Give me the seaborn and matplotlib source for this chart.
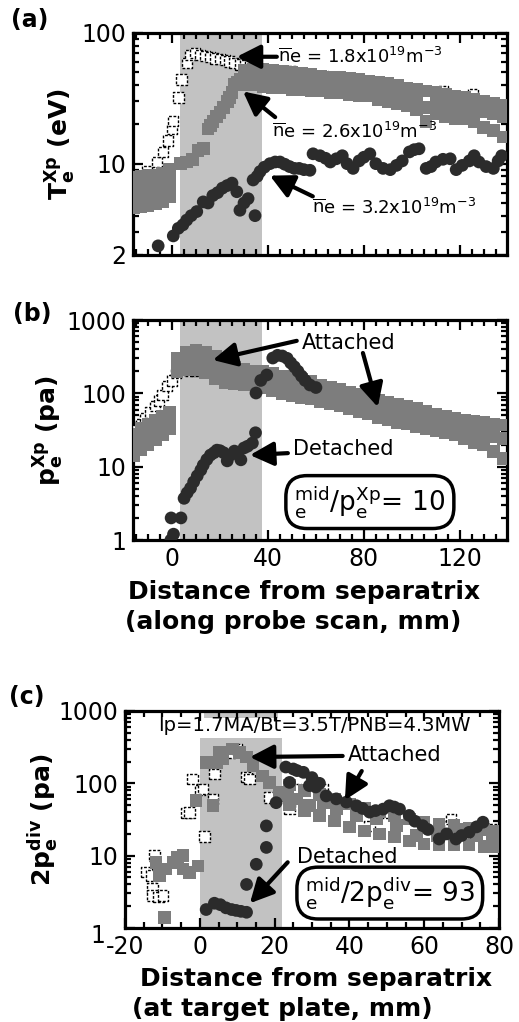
import numpy as np
import pandas as pd
import matplotlib
matplotlib.use("Agg")
import matplotlib.pyplot as plt
import seaborn as sns
from matplotlib.ticker import FixedLocator, FixedFormatter, MultipleLocator, LogLocator, NullFormatter
from matplotlib.transforms import ScaledTranslation

sns.set_style("ticks")
plt.rcParams["font.family"] = ["DejaVu Sans"]
plt.rcParams["mathtext.fontset"] = "dejavusans"
plt.rcParams["axes.unicode_minus"] = False
for k in ["text.color", "axes.edgecolor", "axes.labelcolor", "xtick.color", "ytick.color",
          "xtick.labelcolor", "ytick.labelcolor"]:
    plt.rcParams[k] = "black"

# ---------------- data: panel (a) Te at X-point ----------------
a18_x = [-16, -16, -16, -10.5, -6.4, -3.7, -1.6, 0.0, 0.5, 2.6, 4.0, 6.1, 7.5, 9.5, 11.7, 13.7, 15.8, 18.0, 20.0, 22.0,
         24.0, 26.0, 28.3, 30.5, 32.5, 34.5, 36.7, 40.0, 44.0, 50.0, 57.5, 63.0, 67.0, 70.0, 78.0, 89.0, 111.7, 113.0, 121.0, 125.5]
a18_T = [4.8, 6.1, 7.4, 8.7, 10.3, 12.3, 15.0, 18.4, 21.2, 32.0, 44.0, 59.0, 68.0, 70.0, 68.0, 67.0, 65.5, 64.0, 63.0, 62.0,
         60.6, 59.0, 57.3, 56.5, 55.5, 54.0, 53.0, 52.0, 51.0, 50.6, 48.0, 46.8, 44.0, 45.4, 44.0, 41.6, 35.0, 36.0, 32.0, 33.9]

a26_block_x = [-16, -13, -10, -7, -4, -1]
a26_block_T = [[4.6, 5.5, 6.6, 7.8], [4.7, 5.6, 6.7, 8.0], [4.8, 5.7, 6.8, 8.1],
               [4.9, 5.8, 6.9, 8.2], [5.1, 6.0, 7.1, 8.5], [5.6, 6.5, 7.6, 9.0]]
a26_rise_x = [3.5, 6.0, 8.5, 10.8, 13.0, 15.0, 16.0, 17.0, 18.5, 20.0, 21.5, 23.0, 24.0, 25.0, 26.0, 27.0, 28.3]
a26_rise_T = [10.0, 10.3, 10.8, 12.6, 13.0, 18.4, 19.5, 21.0, 23.0, 24.7, 27.0, 30.0, 32.0, 35.0, 40.4, 42.0, 44.0]
a26_band_x = [30, 34, 38, 42, 46, 50, 54, 58, 62, 66, 70, 74, 78, 82, 86, 90, 94, 98, 102, 106, 110, 114, 118, 122, 126, 130, 134, 138]
a26_band_up = [52, 53, 53, 52, 51, 50, 49, 48, 47, 46, 46, 45, 44, 43, 42, 41, 40, 38, 37, 36, 35, 34, 33, 32, 31, 30, 29, 28]
a26_band_mid = [46, 47, 46, 45, 44, 44, 43, 42, 41, 40, 40, 39, 38, 38, 37, 35, 34, 33, 31, 27, 29, 28, 27, 27, 26, 25, 24, 23]
a26_band_lo = [40, 40, 39, 38, 38, 37, 37, 36, 36, 35, 35, 34, 33, 33, 31, 30, 29, 28, 26, 21, 24, 23, 22, 22, 21, 19, 18, 16]

a32_x = [-5.8, 0.5, 2.6, 4.5, 6.1, 8.0, 10.3, 13.0, 15.0, 17.0, 19.0, 21.0, 23.0, 25.0, 27.0, 28.3, 30.0, 31.7, 33.8, 34.6,
         35.5, 36.7, 38.5, 40.8, 43.0, 45.0, 47.0, 49.0, 51.0, 53.0, 55.0, 57.5, 58.8, 61.7, 64.0, 66.0, 68.5, 71.0, 73.0, 75.5,
         78.0, 80.0, 82.5, 85.0, 88.0, 91.0, 93.6, 96.0, 99.0, 101.0, 103.0, 106.0, 108.0, 110.0, 113.0, 116.0, 118.5, 121.0,
         124.0, 126.0, 128.0, 131.0, 134.0, 136.0, 137.5]
a32_T = [2.35, 2.8, 3.2, 3.4, 3.7, 4.0, 4.3, 5.1, 5.0, 5.7, 6.0, 6.5, 6.8, 7.1, 6.1, 4.4, 5.0, 5.4, 7.5, 4.0,
         8.0, 8.7, 9.4, 10.0, 10.3, 10.3, 9.9, 9.5, 9.2, 9.2, 9.0, 8.9, 11.9, 11.5, 11.0, 10.3, 10.9, 11.5, 10.0, 9.2,
         10.5, 11.2, 11.9, 10.0, 9.2, 9.0, 9.7, 10.5, 12.3, 12.8, 13.0, 9.2, 9.5, 10.3, 10.8, 10.9, 9.0, 9.7,
         10.5, 11.5, 10.3, 9.5, 9.2, 10.5, 11.5]

# ---------------- data: panel (b) pe at X-point ----------------
b_open_x = [-16, -14.6, -13, -11.3, -9, -7, -5.5, -4, -2, 0, 1.7, 5, 7.5, 10, 12]
b_open_p = [24.5, 31.6, 38, 46, 55, 67, 80, 95, 126, 150, 189, 208, 200, 205, 208]

b_block_x = [-16, -13, -10, -7, -4, -1]
b_block_p = [[14, 20, 28], [17, 24, 33], [20, 28, 38], [23, 32, 43], [27, 37, 49], [33, 43, 56]]
b_band_x = [2, 6, 10, 14, 18, 22, 26, 30, 34, 38, 42, 46, 50, 54, 58, 62, 66, 70, 74, 78, 82, 86, 90, 94, 98,
            102, 106, 110, 114, 118, 122, 126, 130, 134, 138]
b_band_up = [300, 360, 390, 360, 320, 260, 230, 210, 200, 200, 185, 172, 165, 155, 145, 130, 120, 112, 104, 96,
             88, 80, 76, 70, 67, 62, 57, 52, 48, 46, 43, 42, 40, 38, 37]
b_band_mid = [250, 290, 300, 280, 240, 200, 175, 165, 160, 150, 140, 130, 125, 118, 115, 105, 97, 90, 82, 76,
              70, 64, 60, 56, 52, 48, 44, 40, 38, 35, 33, 31, 30, 26, 24]
b_band_lo = [200, 210, 210, 190, 160, 140, 135, 130, 130, 120, 110, 100, 92, 88, 85, 78, 72, 67, 62, 57,
             52, 47, 44, 40, 38, 35, 33, 31, 29, 27, 24, 21, 20, 16, 13]

b_att_x = [35, 37, 39.5, 42, 44, 46, 48, 49.5, 51, 52.5, 54, 55.5, 57.5, 60]
b_att_p = [101, 150, 178, 303, 330, 323, 300, 260, 230, 200, 172, 150, 130, 120]
b_det_x = [-0.5, 0.6, -0.4, 3.7, 5, 6.3, 7.7, 9, 10.5, 12, 13, 14.5, 16, 17.5, 18.7, 20, 21.5, 23, 24.5, 26,
           27.5, 28.7, 30, 31.5, 33.5, 34.8]
b_det_p = [1.0, 1.2, 2.0, 2.0, 3.7, 4.4, 5.1, 6.2, 7.5, 9.0, 10.5, 12.5, 14.4, 15.5, 16.8, 16.5, 15.5, 12, 14.5, 16.3,
           15.5, 12.4, 18, 19, 21, 29]

# ---------------- data: panel (c) 2pe at divertor ----------------
c_open_x = [-14.3, -13, -12.6, -12.6, -12.1, -11, -9.9, -3.6, -2.8, -1.9, 0, 0.8, 1.3, 3.5, 3.9, 7.9, 10, 12.5, 13.3,
            18.6, 24, 25.8, 33, 45.4, 49.8, 66.8, 67.2, 78]
c_open_p = [6, 5.3, 3.5, 2.8, 10, 2.7, 2.8, 39, 39.7, 115, 81, 83, 18.5, 60.6, 134, 268, 300, 123, 115,
            64, 44, 83, 83, 25.8, 39.7, 25.8, 32, 23]
c_gray_x = [-11.7, -10.8, -9, -7.2, -6, -4.5, -4.5, -2.8, -0.5, -9.5, -1, 1.7, 3.5, 4.4, 5.3, 6.2, 8.8, 10.6, 12.5,
            14.2, 16.8, 18.6, 21.3, 23.5, 25.8, 29.3, 33, 36.5, 41.9, 47.3, 52.6, 58, 63.4, 68.7, 74, 78.3]
c_gray_p = [8.1, 5.3, 6.5, 8.1, 9.5, 10, 6.5, 5.9, 7.2, 1.4, 57.5, 195, 49.4, 195, 268, 217, 298, 268, 230,
            175, 127, 103, 75, 68, 61, 49, 54, 44, 36, 32, 26, 19, 19, 23, 19, 19]
c_band_x = [24, 28, 32, 36, 40, 44, 48, 52, 56, 60, 64, 68, 72, 76, 79]
c_band_up = [95, 80, 70, 60, 52, 45, 40, 36, 32, 29, 27, 26, 24, 23, 22]
c_band_lo = [50, 42, 36, 30, 25, 22, 20, 18, 16, 14.5, 14, 14, 14, 13.5, 13.5]
c_att_x = [20.4, 23, 24, 25, 26, 27.7, 29.3, 30, 31, 32, 33.8, 36.5, 39.2, 41.9, 43.5, 45.4, 47, 49, 50.7, 52, 53.4,
           56, 57.5, 59.6, 61, 64, 66, 68.5, 70, 72, 74, 75.7]
c_att_p = [54, 168, 103, 158, 150, 142, 93, 120, 89, 100, 67, 61, 55, 49, 45, 40, 42, 44, 49, 47, 44,
           36, 30, 26, 23, 17, 20, 17, 19, 21, 25, 29]
c_det_x = [1.7, 3.9, 5.5, 7, 8.5, 9.7, 11, 12.5, 12.5, 15.1, 17.8, 17.8]
c_det_p = [1.8, 2.2, 2.1, 1.9, 1.8, 1.75, 1.7, 1.65, 4.0, 7.6, 13, 25.8]


def rows(xs, *cols):
    xx, yy = [], []
    for col in cols:
        xx += list(xs)
        yy += list(col)
    return xx, yy


def block(xs, vals):
    xx, yy = [], []
    for x, vs in zip(xs, vals):
        for v in vs:
            xx.append(x)
            yy.append(v)
    return xx, yy


# ---------------- figure ----------------
W, H = 519, 1022
fig = plt.figure(figsize=(W / 100, H / 100), dpi=100)


def ax_at(l, t, r, b):
    return fig.add_axes([l / W, 1 - b / H, (r - l) / W, (b - t) / H])


ax_a = ax_at(133, 33, 507, 255)
ax_b = ax_at(133, 320, 507, 540)
ax_c = ax_at(125, 711, 499, 928)

OPEN = dict(marker="s", s=56, color="white", edgecolor="black", linewidth=1.0, linestyle=(0, (2, 1.2)), zorder=3)
GRAY = dict(marker="s", s=82, color="#7d7d7d", edgecolor="none", linewidth=0, zorder=4)
DARK = dict(marker="o", s=84, color="#2b2b2b", edgecolor="none", linewidth=0, zorder=5)


def draw(ax, x, y, style):
    df = pd.DataFrame({"x": x, "y": y})
    sns.scatterplot(data=df, x="x", y="y", ax=ax, legend=False, **style)


SHADE = "#c2c2c2"

# panel (a)
ax_a.axvspan(3.3, 37.5, color=SHADE, lw=0, zorder=0)
draw(ax_a, a18_x, a18_T, OPEN)
gx, gy = block(a26_block_x, a26_block_T)
bx, by = rows(a26_band_x, a26_band_up, a26_band_mid, a26_band_lo)
draw(ax_a, gx + a26_rise_x + bx, gy + a26_rise_T + by, GRAY)
draw(ax_a, a32_x, a32_T, DARK)

# panel (b)
ax_b.axvspan(3.3, 37.5, color=SHADE, lw=0, zorder=0)
draw(ax_b, b_open_x, b_open_p, OPEN)
gx, gy = block(b_block_x, b_block_p)
bx, by = rows(b_band_x, b_band_up, b_band_mid, b_band_lo)
draw(ax_b, gx + bx, gy + by, GRAY)
draw(ax_b, b_att_x, b_att_p, DARK)
draw(ax_b, b_det_x, b_det_p, DARK)

# panel (c)
ax_c.axvspan(0, 22, ymin=0, ymax=0.876, color=SHADE, lw=0, zorder=0)
ax_c.axvspan(1, 21, ymin=0.968, ymax=1.0, color=SHADE, lw=0, zorder=0)
draw(ax_c, c_open_x, c_open_p, OPEN)
bx, by = rows(c_band_x, c_band_up, c_band_lo)
draw(ax_c, c_gray_x + bx, c_gray_p + by, GRAY)
draw(ax_c, c_att_x, c_att_p, DARK)
draw(ax_c, c_det_x, c_det_p, DARK)


def fmt(ax, xlim, ylim, xticks, yticks, ylabels, xlabels=True):
    ax.set_yscale("log")
    ax.set_xlim(*xlim)
    ax.set_ylim(*ylim)
    ax.xaxis.set_major_locator(FixedLocator(xticks))
    ax.xaxis.set_minor_locator(MultipleLocator(5))
    ax.yaxis.set_major_locator(FixedLocator(yticks))
    ax.yaxis.set_major_formatter(FixedFormatter(ylabels))
    ax.yaxis.set_minor_locator(LogLocator(base=10, subs=np.arange(2, 10), numticks=30))
    ax.yaxis.set_minor_formatter(NullFormatter())
    ax.tick_params(which="both", direction="in", top=True, right=True, width=1.6, labelsize=17, pad=5,
                   colors="black")
    ax.tick_params(which="major", length=7)
    ax.tick_params(which="minor", length=4)
    if not xlabels:
        ax.tick_params(labelbottom=False)
    for s in ax.spines.values():
        s.set_linewidth(2.3)
        s.set_color("black")
        s.set_visible(True)
    ax.set_xlabel("")


fmt(ax_a, (-16.3, 139.7), (2, 100), [0, 40, 80, 120], [2, 10, 100], ["2", "10", "100"], xlabels=False)
fmt(ax_b, (-16.3, 139.7), (1, 1000), [0, 40, 80, 120], [1, 10, 100, 1000], ["1", "10", "100", "1000"])
fmt(ax_c, (-20, 80), (1, 1000), [-20, 0, 20, 40, 60, 80], [1, 10, 100, 1000], ["1", "10", "100", "1000"])

ax_a.set_ylabel(r"$\mathbf{T_e^{Xp}}$ (eV)", fontsize=18, fontweight="bold", color="black")
ax_a.yaxis.set_label_coords(-0.147, 0.5)
ax_b.set_ylabel(r"$\mathbf{p_e^{Xp}}$ (pa)", fontsize=18, fontweight="bold", color="black")
ax_b.yaxis.set_label_coords(-0.18, 0.5)
ax_c.set_ylabel(r"$\mathbf{2p_e^{div}}$ (pa)", fontsize=18, fontweight="bold", color="black")
ax_c.yaxis.set_label_coords(-0.17, 0.5)

for lbl, (px, py) in zip(["(a)", "(b)", "(c)"], [(30, 20), (32, 314), (27, 697)]):
    fig.text(px / W, 1 - py / H, lbl, ha="center", va="center", fontsize=17, fontweight="bold")

fig.text(128 / W, 1 - 592 / H, "Distance from separatrix", ha="left", va="center", fontsize=18, fontweight="bold")
fig.text(125 / W, 1 - 622 / H, "(along probe scan, mm)", ha="left", va="center", fontsize=18, fontweight="bold")
fig.text(140 / W, 1 - 979 / H, "Distance from separatrix", ha="left", va="center", fontsize=18, fontweight="bold")
fig.text(132 / W, 1 - 1009 / H, "(at target plate, mm)", ha="left", va="center", fontsize=18, fontweight="bold")

ARW = dict(arrowstyle="-|>,head_length=0.75,head_width=0.38", lw=3, color="black", mutation_scale=19,
           shrinkA=0, shrinkB=0)


def arrow(ax, tail, tip):
    ax.annotate("", xy=tip, xytext=tail, arrowprops=ARW, zorder=9)


# annotations (a)
ax_a.text(44, 65.8, r"$\overline{\rm n}$e = 1.8x10$^{19}$m$^{-3}$", fontsize=13, va="center", ha="left", zorder=10)
arrow(ax_a, (43.7, 65.8), (27, 65.8))
ax_a.text(41.7, 17.5, r"$\overline{\rm n}$e = 2.6x10$^{19}$m$^{-3}$", fontsize=13, va="center", ha="left", zorder=10)
arrow(ax_a, (43, 22.7), (29.6, 35.7))
ax_a.text(58.3, 4.56, r"$\overline{\rm n}$e = 3.2x10$^{19}$m$^{-3}$", fontsize=13, va="center", ha="left", zorder=10)
arrow(ax_a, (58.7, 5.62), (40.8, 8.1))

# annotations (b)
ax_b.text(54, 486, "Attached", fontsize=15, va="center", ha="left", zorder=10)
arrow(ax_b, (52, 520), (17, 285))
arrow(ax_b, (79.6, 355), (85.8, 65))
ax_b.text(50.4, 17.4, "Detached", fontsize=15, va="center", ha="left", zorder=10)
arrow(ax_b, (48.3, 15.3), (32.5, 14.4))
ax_b.text(82.5, 3.29, r"${}^{\rm mid}_{\rm e}/{\rm p}^{\rm Xp}_{\rm e}$= 10", fontsize=19, va="center", ha="center",
          zorder=10, bbox=dict(boxstyle="round,pad=0.32,rounding_size=0.8", fc="white", ec="black", lw=2.5))

# annotations (c)
ax_c.text(30.7, 621, "Ip=1.7MA/Bt=3.5T/PNB=4.3MW", fontsize=14, va="center", ha="center", zorder=10)
ax_c.text(39.6, 246, "Attached", fontsize=15, va="center", ha="left", zorder=10)
arrow(ax_c, (38.2, 239), (13.4, 231))
arrow(ax_c, (43.3, 148), (38.8, 58.7))
ax_c.text(25.9, 9.57, "Detached", fontsize=15, va="center", ha="left", zorder=10)
arrow(ax_c, (23.5, 8.1), (13.4, 2.2))
ax_c.text(50.8, 3.04, r"${}^{\rm mid}_{\rm e}/2{\rm p}^{\rm div}_{\rm e}$= 93", fontsize=19, va="center", ha="center",
          zorder=10, bbox=dict(boxstyle="round,pad=0.3,rounding_size=0.8", fc="white", ec="black", lw=2.5))

# the "1" label of panel (c) sits a little left of and below the axis corner, as in the reference
lab1 = ax_c.yaxis.get_major_ticks()[0].label1
lab1.set_transform(lab1.get_transform() + ScaledTranslation(-9 / 72, -4 / 72, fig.dpi_scale_trans))

fig.savefig("out.png", dpi=100)
